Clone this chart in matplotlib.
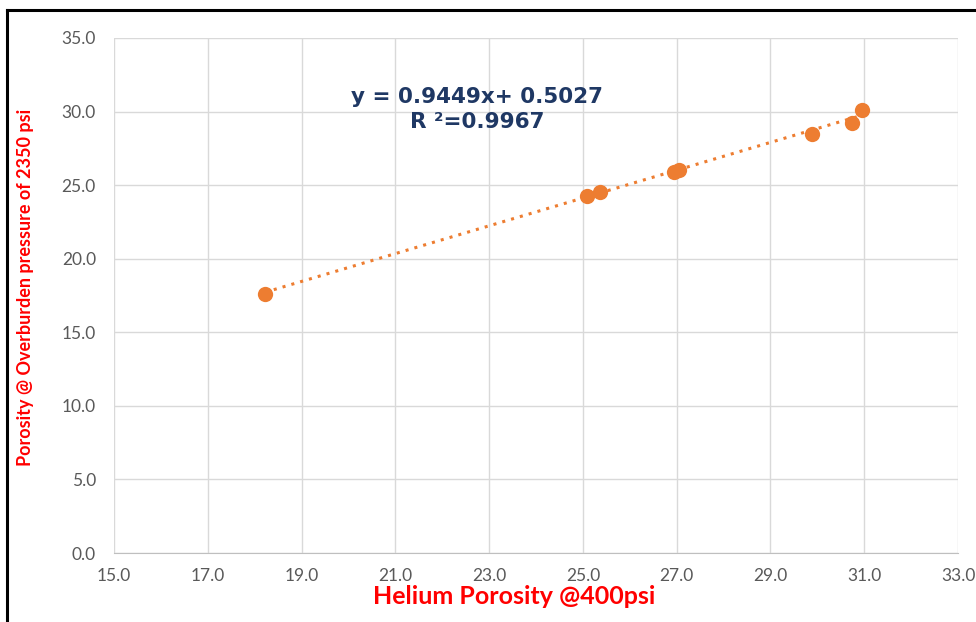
import numpy as np
import matplotlib
matplotlib.use("Agg")
import matplotlib.pyplot as plt
from matplotlib.lines import Line2D

# helium porosity @400psi vs porosity @ overburden 2350 psi
helium_por = [18.22, 25.08, 25.36, 26.94, 27.04, 29.88, 30.74, 30.95]
overburden_por = [17.6, 24.27, 24.54, 25.9, 26.04, 28.48, 29.23, 30.12]

slope = 0.9449
intercept = 0.5027
r2 = 0.9967

x_ticks = np.arange(15.0, 33.01, 2.0)
y_ticks = np.arange(0.0, 35.01, 5.0)

orange = "#ED7D31"
navy = "#1F3864"
grey_txt = "#595959"

fig = plt.figure(figsize=(9.76, 6.22), dpi=100)
ax = fig.add_axes([114/976, 69/622, (958-114)/976, (553-38)/622])

# trendline across the data range
xs = np.array([min(helium_por), max(helium_por)])
ax.plot(xs, slope*xs + intercept, color=orange, lw=2.2,
        linestyle=(0, (1, 2)), zorder=2)
ax.plot(helium_por, overburden_por, 'o', color=orange, ms=11,
        markeredgewidth=0, zorder=3)

ax.set_xlim(15, 33)
ax.set_ylim(0, 35)
ax.set_xticks(x_ticks)
ax.set_yticks(y_ticks)
ax.set_xticklabels([f"{v:.1f}" for v in x_ticks])
ax.set_yticklabels([f"{v:.1f}" for v in y_ticks])
ax.tick_params(length=0, labelsize=12.5, labelcolor=grey_txt)
ax.tick_params(axis="x", pad=11)
ax.tick_params(axis="y", pad=13)
for lab in ax.get_xticklabels() + ax.get_yticklabels():
    lab.set_family("Lato")

ax.grid(True, color="#d9d9d9", lw=1)
ax.set_axisbelow(True)
for s in ["top", "right", "left"]:
    ax.spines[s].set_visible(False)
ax.spines["bottom"].set_color("#bfbfbf")

ax.set_xlabel("Helium Porosity @400psi", color="red", fontsize=18,
              fontweight="bold", family="Lato", va="center")
ax.xaxis.set_label_coords(0.474, -0.084)
ax.set_ylabel("Porosity @ Overburden pressure of 2350 psi", color="red",
              fontsize=13, fontweight="bold", family="Lato", va="center")
ax.yaxis.set_label_coords(-0.105, 0.515)

ax.text(22.75, 31.0, f"y = {slope:.4f}x+ {intercept:.4f}", color=navy,
        fontsize=15.5, fontweight="bold", family="DejaVu Sans",
        ha="center", va="center")
ax.text(22.75, 29.3, f"R ²={r2:.4f}", color=navy,
        fontsize=15.5, fontweight="bold", family="DejaVu Sans",
        ha="center", va="center")

# black frame on the top and left of the image
fig.add_artist(Line2D([7/976, 1], [1 - 9.5/622, 1 - 9.5/622],
                      color="black", lw=2.2, transform=fig.transFigure))
fig.add_artist(Line2D([7/976, 7/976], [0, 1 - 9.5/622],
                      color="black", lw=2.2, transform=fig.transFigure))

fig.savefig("out.png", dpi=100)
